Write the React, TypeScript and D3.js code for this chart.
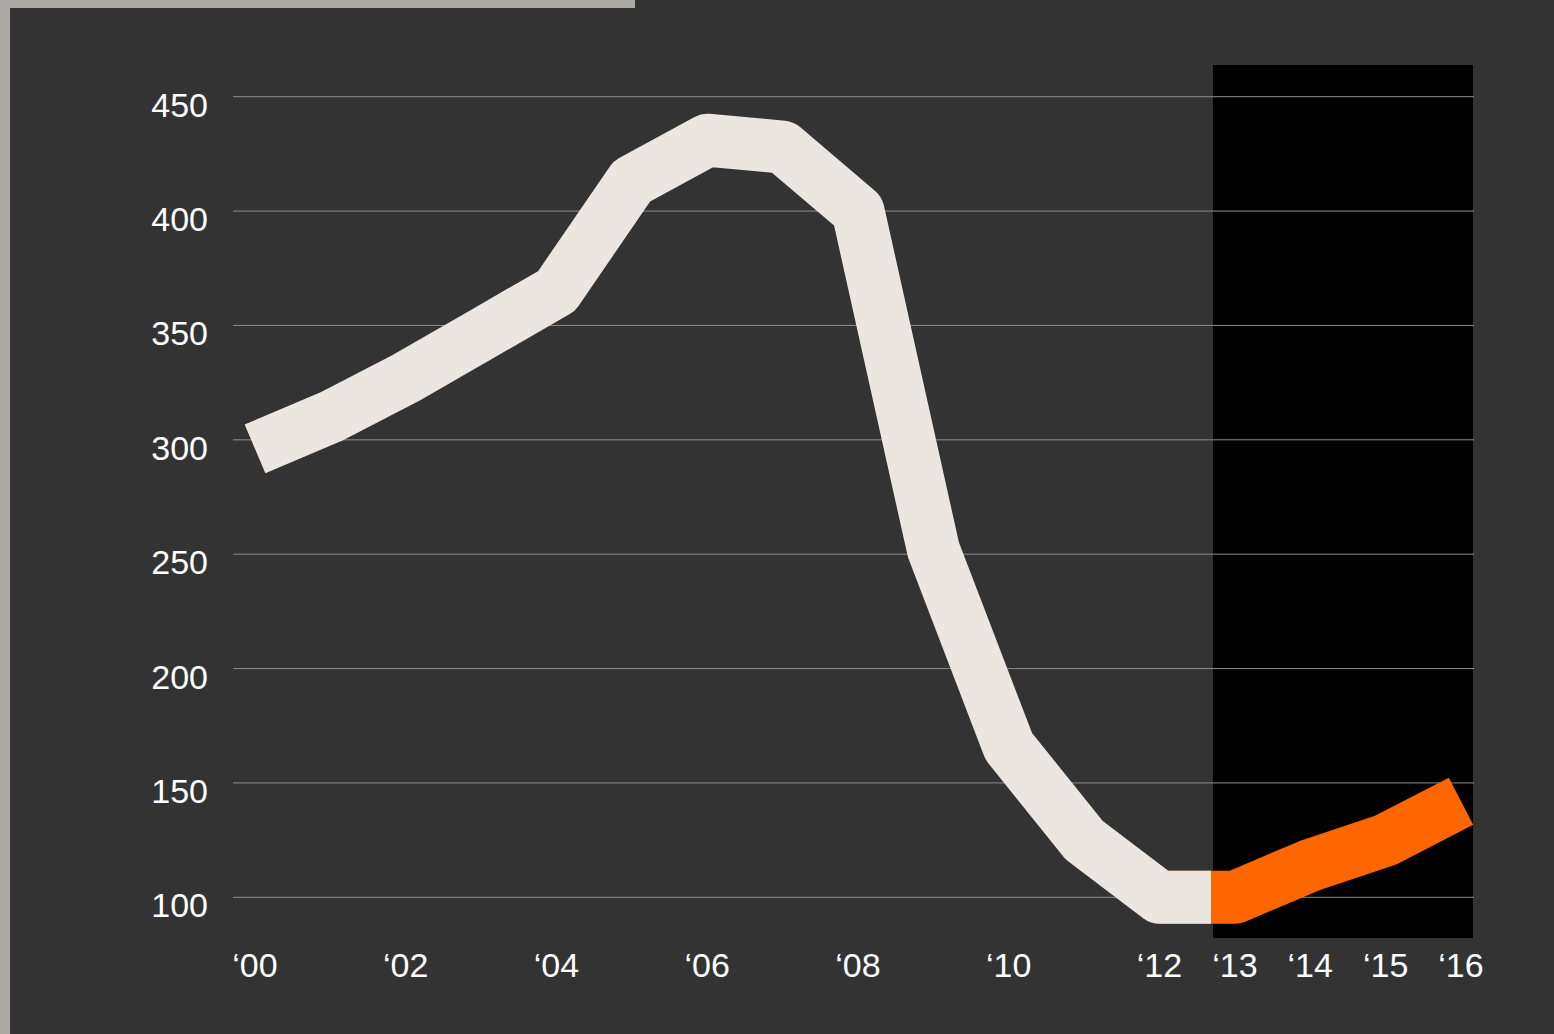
import React from "react";
import * as d3 from "d3";

const years = [2000, 2001, 2002, 2003, 2004, 2005, 2006, 2007, 2008, 2009, 2010, 2011, 2012, 2013];
const historyValues = [296, 310, 327, 346, 365, 413, 431, 428, 400, 252, 166, 125, 100, 100];
const forecastYears = [2012, 2013, 2014, 2015, 2016];
const forecastValues = [100, 100, 114, 125, 142];
const yTicks = [100, 150, 200, 250, 300, 350, 400, 450];
const xTickYears = [2000, 2002, 2004, 2006, 2008, 2010, 2012, 2013, 2014, 2015, 2016];
const xTickLabels = ["‘00", "‘02", "‘04", "‘06", "‘08", "‘10", "‘12", "‘13", "‘14", "‘15", "‘16"];

const W = 1554;
const H = 1034;

export default function App() {
  const x = d3.scaleLinear().domain([2000, 2016]).range([255, 1461]);
  const y = d3.scaleLinear().domain([100, 450]).range([897.3, 96.7]);

  const line = d3
    .line<[number, number]>()
    .x((d) => x(d[0]))
    .y((d) => y(d[1]));

  const hist = line(years.map((yr, i) => [yr, historyValues[i]] as [number, number])) || "";
  const fc = line(forecastYears.map((yr, i) => [yr, forecastValues[i]] as [number, number])) || "";

  const font = "'Liberation Sans', Arial, sans-serif";

  return (
    <svg
      width={W}
      height={H}
      style={{ position: "absolute", left: 0, top: 0, display: "block" }}
    >
      <defs>
        <clipPath id="histClip">
          <rect x={0} y={0} width={1211} height={H} />
        </clipPath>
      </defs>
      <rect x={0} y={0} width={W} height={H} fill="#333333" />
      <rect x={0} y={0} width={635} height={8} fill="#ada9a4" />
      <rect x={0} y={0} width={10} height={H} fill="#ada9a4" />

      <rect x={1213} y={65} width={260} height={873} fill="#000000" />

      {yTicks.map((t) => (
        <g key={t}>
          <line x1={233} x2={1474} y1={y(t)} y2={y(t)} stroke="#8e8e8e" strokeWidth={1} />
          <text
            x={208}
            y={y(t) + 20}
            textAnchor="end"
            fill="#ffffff"
            fontFamily={font}
            fontSize={34}
          >
            {t}
          </text>
        </g>
      ))}

      {xTickYears.map((yr, i) => (
        <text
          key={yr}
          x={x(yr)}
          y={977}
          textAnchor="middle"
          fill="#ffffff"
          fontFamily={font}
          fontSize={34}
        >
          {xTickLabels[i]}
        </text>
      ))}

      <path
        d={fc}
        fill="none"
        stroke="#ff6600"
        strokeWidth={53}
        strokeLinejoin="round"
        strokeLinecap="butt"
      />
      <path
        d={hist}
        fill="none"
        stroke="#ebe6e0"
        strokeWidth={53}
        strokeLinejoin="round"
        strokeLinecap="butt"
        clipPath="url(#histClip)"
      />
    </svg>
  );
}
